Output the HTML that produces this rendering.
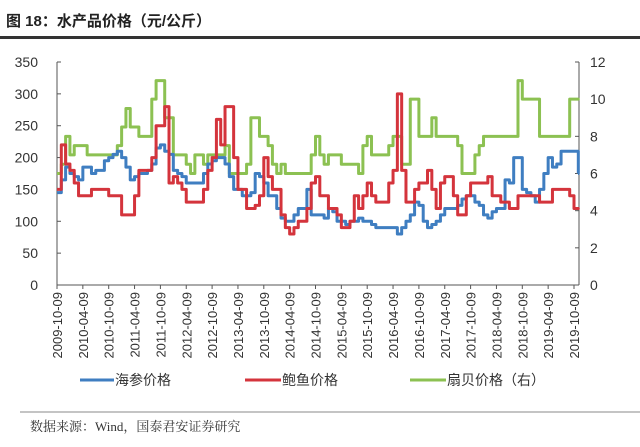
<!DOCTYPE html>
<html><head><meta charset="utf-8"><style>
body{margin:0;background:#fff;width:640px;height:442px;overflow:hidden;font-family:"Liberation Sans","Noto Sans CJK SC",sans-serif}
</style></head><body>
<svg id="c" width="640" height="442" xmlns="http://www.w3.org/2000/svg">
<text x="6" y="26" font-size="15" font-weight="bold" fill="#222" font-family="'Liberation Sans','Noto Sans CJK SC',sans-serif">图 18：水产品价格（元/公斤）</text>
<rect x="0" y="36" width="640" height="3" fill="#333"/>
<g id="axes"></g>
<g id="series"></g>
<g font-size="14" fill="#333" font-family="'Liberation Sans','Noto Sans CJK SC',sans-serif">
<line x1="80" y1="380" x2="114" y2="380" stroke="#3f7ec1" stroke-width="3"/><text x="115" y="385">海参价格</text>
<line x1="245" y1="380" x2="281" y2="380" stroke="#d4343c" stroke-width="3"/><text x="282" y="385">鲍鱼价格</text>
<line x1="410" y1="380" x2="446" y2="380" stroke="#8cc152" stroke-width="3"/><text x="447" y="385">扇贝价格（右）</text>
</g>
<line x1="20" y1="412" x2="640" y2="412" stroke="#888" stroke-width="1"/>
<text x="30" y="431" font-size="13" fill="#333" font-family="'Liberation Serif','Noto Serif CJK SC',serif">数据来源：Wind，国泰君安证券研究</text>
</svg>
<script>
const xTickLabels=["2009-10-09","2010-04-09","2010-10-09","2011-04-09","2011-10-09","2012-04-09","2012-10-09","2013-04-09","2013-10-09","2014-04-09","2014-10-09","2015-04-09","2015-10-09","2016-04-09","2016-10-09","2017-04-09","2017-10-09","2018-04-09","2018-10-09","2019-04-09","2019-10-09"];
const leftTicks=[0,50,100,150,200,250,300,350];
const rightTicks=[0,2,4,6,8,10,12];
const seaCucumber=[145,165,185,175,170,165,185,185,175,180,180,195,200,205,210,200,185,165,170,175,175,180,190,215,220,210,205,180,175,170,160,160,160,160,175,190,195,200,200,190,170,150,150,140,140,145,175,170,160,140,140,120,105,100,100,110,120,120,150,110,110,110,105,120,115,100,100,95,100,100,105,100,100,95,90,90,90,90,90,80,90,100,110,130,125,100,90,95,100,110,120,120,120,125,135,140,140,130,125,110,105,115,120,120,165,160,200,200,150,145,140,130,150,175,200,185,190,210,210,210,210,175];
const abalone=[150,220,190,180,160,140,140,140,150,150,150,150,140,140,140,110,110,110,140,180,180,180,200,250,250,280,160,170,160,150,130,130,130,130,150,180,200,260,220,280,280,200,150,150,120,120,125,140,200,170,150,150,110,90,80,90,100,100,120,160,170,140,140,120,120,110,90,90,100,140,120,140,160,140,130,130,130,160,180,300,180,130,130,150,160,160,180,150,120,160,170,170,140,110,110,140,160,160,160,160,170,140,140,130,130,120,120,140,140,140,140,140,130,130,130,150,150,150,150,140,120,120];
const scallop=[6,6.5,8,7,7.5,7.5,7.5,7,7,7,7,7,7,7,7.5,8.5,9.5,8.5,8.5,8,8,8,10,11,11,9,9,7,7,7,6.5,6,7,7,6.5,7,7,7,7,7.5,6,6,6,6,6.5,9,9,8,8,7.5,6.5,6,6.5,6,6,6,6,6,6,7,8,7,6.5,7,7,7,6.5,6.5,6.5,6.5,6,7.5,8,7,7,7,7,7.5,8,8,6.5,6.5,10,10,8,8,8,9,8,8,8,8,8,7.5,6,6,6,7,7.5,8,8,8,8,8,8,8,8,11,10,10,10,10,8,8,8,8,8,8,8,10,10,10];

const X0=57,X1=574,YT=62,YB=285,XR=579;
const xs=i=>X0+i*(X1-X0)/120;
const yl=v=>YB-(v/350)*(YB-YT);
const yr=v=>YB-(v/12)*(YB-YT);
const NS="http://www.w3.org/2000/svg";
const ax=document.getElementById('axes'),sg=document.getElementById('series');
function mk(t,a,p){const e=document.createElementNS(NS,t);for(const k in a)e.setAttribute(k,a[k]);p.appendChild(e);return e;}
let e=mk('line',{x1:X0,y1:YT,x2:X0,y2:YB,stroke:'#555'},ax);


e=mk('line',{x1:XR,y1:YT,x2:XR,y2:YB,stroke:'#555'},ax);


e=mk('line',{x1:X0,y1:YB,x2:XR,y2:YB,stroke:'#555'},ax);


leftTicks.forEach(v=>{mk('line',{x1:X0,y1:yl(v),x2:X0+4,y2:yl(v),stroke:'#555'},ax);
const t=mk('text',{x:38,y:yl(v)+5,'text-anchor':'end','font-size':14,fill:'#333'},ax);t.textContent=v;

});
rightTicks.forEach(v=>{mk('line',{x1:XR-4,y1:yr(v),x2:XR,y2:yr(v),stroke:'#555'},ax);
const t=mk('text',{x:590,y:yr(v)+5,'font-size':14,fill:'#333'},ax);t.textContent=v;

});
xTickLabels.forEach((l,k)=>{const x=xs(k*6);mk('line',{x1:x,y1:YB,x2:x,y2:YB+4,stroke:'#555'},ax);
const t=mk('text',{x:0,y:0,transform:`translate(${x+5},${YB+7}) rotate(-90)`,'text-anchor':'end','font-size':13,fill:'#333'},ax);t.textContent=l;

});
function step(arr,fy,col,name){let d='';arr.forEach((v,i)=>{const x=xs(i),y=fy(v);d+=i?`H${x}V${y}`:`M${x},${y}`;});d+=`H${XR-1}`;
const p=mk('path',{d:d,fill:'none',stroke:col,'stroke-width':3,'stroke-linejoin':'round'},sg);

}
step(scallop,yr,'#8cc152','scallop-line');
step(seaCucumber,yl,'#3f7ec1','sea-cucumber-line');
step(abalone,yl,'#d4343c','abalone-line');
</script>
</body></html>
